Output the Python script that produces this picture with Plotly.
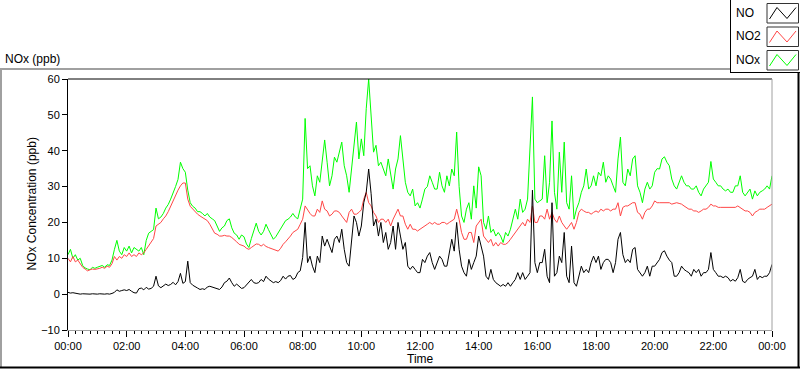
import plotly.graph_objects as go

# ---------------- data: 5-minute readings, 00:00 .. 24:00 (289 samples) ----------------
STEP_MIN = 5

no_ppb = [
    # 00:00 - 03:55
    0.5, 0.3, 0.4, 0.2, 0.1, 0.0, 0.1, 0.0, 0.1, 0.0, 0.1, 0.0,
    0.0, 0.1, 0.0, 0.0, 0.1, 0.0, 0.2, 0.5, 1.2, 0.8, 1.0, 1.2,
    1.0, 1.3, 0.8, 0.4, 0.3, 1.5, 1.7, 1.2, 1.9, 1.4, 1.6, 2.2,
    5.0, 2.3, 1.8, 2.2, 2.8, 2.4, 2.7, 3.3, 2.6, 3.5, 5.8, 3.0,
    # 04:00 - 07:55
    3.5, 9.2, 3.2, 2.5, 2.2, 1.7, 1.3, 1.5, 1.3, 2.0, 2.2, 2.0,
    1.8, 1.5, 1.3, 2.0, 3.2, 3.6, 4.5, 3.2, 2.2, 2.8, 2.2, 1.6,
    1.8, 2.5, 3.2, 4.1, 3.2, 3.0, 3.2, 4.1, 3.5, 5.0, 4.2, 3.6,
    3.2, 3.5, 3.2, 3.8, 5.0, 4.2, 5.0, 5.2, 4.1, 4.5, 6.0, 6.5,
    # 08:00 - 11:55
    10.2, 20.0, 8.8, 10.6, 7.8, 6.0, 10.6, 8.8, 16.2, 13.4, 15.3, 13.4,
    11.6, 15.3, 16.2, 14.4, 18.1, 12.5, 8.8, 7.8, 14.4, 21.8, 20.0, 16.2,
    19.0, 25.5, 28.4, 34.9, 28.0, 19.0, 20.9, 16.2, 20.0, 14.4, 17.2, 12.5,
    14.4, 19.0, 12.5, 20.0, 16.2, 12.5, 14.4, 7.8, 6.9, 7.8, 6.9, 6.0,
    # 12:00 - 15:55
    6.0, 9.7, 8.8, 10.6, 11.6, 8.8, 6.9, 8.8, 10.6, 9.7, 7.8, 7.8,
    11.6, 15.3, 12.0, 20.0, 12.5, 7.8, 6.0, 5.0, 9.7, 6.9, 8.8, 10.6,
    16.2, 13.4, 10.6, 5.0, 4.1, 6.9, 4.1, 3.2, 2.7, 2.2, 2.7, 2.2,
    3.2, 2.2, 3.2, 4.1, 6.0, 4.1, 6.0, 4.1, 5.0, 6.0, 29.0, 8.8,
    # 16:00 - 19:55
    6.0, 8.8, 8.8, 12.5, 5.0, 3.2, 25.5, 5.0, 6.0, 10.6, 8.8, 17.2,
    5.0, 3.2, 13.4, 3.2, 2.2, 5.0, 7.8, 6.0, 6.9, 6.0, 8.8, 10.6,
    8.8, 10.6, 6.9, 8.8, 9.7, 9.7, 8.8, 6.0, 8.8, 15.3, 17.2, 11.0,
    8.8, 9.7, 8.8, 12.5, 13.0, 6.9, 6.0, 5.0, 6.0, 7.8, 5.0, 7.8,
    # 20:00 - 24:00
    7.8, 8.8, 9.7, 11.6, 12.1, 10.6, 9.5, 8.8, 5.0, 5.0, 6.0, 7.8,
    6.9, 6.4, 6.0, 5.0, 6.9, 6.0, 6.9, 5.0, 6.0, 6.0, 6.9, 11.6,
    6.9, 6.0, 5.0, 5.0, 4.6, 5.0, 4.6, 3.6, 4.1, 3.6, 4.6, 6.9,
    3.6, 3.2, 4.1, 4.6, 5.0, 6.9, 4.1, 5.0, 4.6, 5.0, 5.0, 6.0, 8.3,
]

no2_ppb = [
    # 00:00 - 03:55
    10.0, 9.0, 10.5, 9.0, 9.5, 8.5, 7.5, 7.0, 6.5, 6.8, 7.0, 6.9,
    7.0, 7.2, 7.5, 7.2, 7.8, 7.5, 8.5, 10.5, 9.5, 10.5, 10.0, 11.0,
    10.5, 11.5, 10.5, 11.0, 10.5, 11.5, 11.0, 11.5, 12.5, 13.5, 14.5, 15.5,
    19.0, 19.5, 20.0, 21.0, 21.8, 23.0, 24.6, 26.0, 27.4, 29.0, 30.2, 31.0,
    # 04:00 - 07:55
    31.0, 26.5, 24.5, 23.7, 23.0, 22.3, 21.8, 21.3, 21.0, 20.5, 19.5, 18.0,
    17.0, 16.7, 16.2, 16.2, 16.4, 16.2, 16.2, 15.8, 15.3, 14.6, 13.9, 13.6,
    13.4, 12.8, 12.5, 13.0, 13.4, 14.0, 13.9, 13.4, 13.9, 13.3, 13.0, 12.8,
    12.5, 12.2, 12.0, 12.8, 13.9, 14.6, 15.3, 16.2, 17.2, 17.6, 18.1, 19.5,
    # 08:00 - 11:55
    20.9, 24.6, 23.5, 22.5, 21.8, 21.8, 23.7, 22.8, 26.0, 23.7, 23.2, 21.8,
    22.3, 23.2, 23.2, 22.8, 21.8, 20.9, 20.0, 22.8, 23.7, 22.3, 22.3, 22.8,
    23.5, 26.5, 28.4, 25.5, 24.6, 22.8, 21.8, 20.0, 20.9, 20.9, 20.0, 20.9,
    19.0, 20.9, 22.5, 23.7, 21.8, 21.8, 19.5, 18.1, 19.5, 18.1, 18.1, 17.6,
    # 12:00 - 15:55
    18.1, 18.5, 19.0, 19.5, 20.0, 19.5, 20.0, 19.5, 19.5, 20.0, 20.0, 19.5,
    20.0, 20.5, 20.9, 23.7, 20.9, 17.2, 15.3, 15.3, 17.2, 17.2, 14.4, 19.0,
    20.0, 20.9, 16.2, 15.3, 14.4, 15.3, 13.4, 14.4, 13.4, 14.4, 13.9, 13.9,
    14.4, 15.3, 16.2, 17.2, 18.1, 19.0, 20.0, 19.0, 20.9, 20.0, 24.6, 20.0,
    # 16:00 - 19:55
    20.0, 21.8, 21.8, 20.9, 23.7, 20.9, 22.8, 20.9, 20.0, 21.8, 20.0, 19.0,
    18.1, 19.0, 20.0, 18.1, 20.0, 22.8, 23.7, 23.2, 22.8, 22.8, 22.3, 22.8,
    23.2, 22.8, 23.7, 23.2, 23.7, 23.7, 23.2, 23.7, 23.7, 25.5, 21.8, 24.2,
    24.6, 24.6, 25.1, 25.5, 25.5, 22.8, 22.3, 20.9, 22.8, 23.7, 23.7, 24.6,
    # 20:00 - 24:00
    26.0, 25.5, 25.5, 25.5, 25.3, 25.5, 25.5, 25.1, 25.3, 25.5, 25.3, 25.1,
    24.6, 24.2, 23.7, 23.7, 23.2, 23.2, 22.8, 23.2, 23.7, 23.7, 24.2, 25.1,
    24.6, 24.6, 24.2, 24.2, 24.2, 24.2, 24.2, 24.2, 24.2, 24.2, 24.6, 24.2,
    23.7, 23.2, 23.2, 22.8, 21.8, 22.8, 23.2, 23.7, 23.7, 23.7, 24.2, 24.6, 25.1,
]

nox_ppb = [
    # 00:00 - 03:55
    11.0, 12.5, 10.0, 11.0, 9.5, 10.0, 8.0, 7.3, 7.0, 6.8, 7.5, 7.2,
    7.5, 7.8, 8.0, 7.5, 8.2, 8.0, 9.5, 12.5, 15.0, 12.0, 11.0, 13.0,
    12.0, 13.4, 11.5, 13.0, 12.5, 12.0, 13.0, 11.0, 15.0, 17.0, 17.5, 18.0,
    24.0, 21.0, 21.5, 22.5, 24.0, 25.0, 26.5, 28.0, 30.0, 32.0, 36.8, 35.0,
    # 04:00 - 07:55
    34.0, 29.0, 25.5, 24.5, 24.0, 23.0, 23.0, 22.5, 21.8, 22.5, 21.5, 21.0,
    20.5, 19.0, 17.5, 18.5, 19.0, 20.5, 21.0, 18.5, 17.0, 16.5, 15.3, 16.5,
    16.0, 14.0, 13.0, 15.5, 18.0, 19.8, 17.5, 16.5, 17.5, 19.5, 18.0, 16.5,
    15.3, 16.0, 17.2, 18.5, 19.5, 20.5, 20.9, 21.5, 22.5, 21.5, 21.0, 24.0,
    # 08:00 - 11:55
    26.5, 49.0, 35.0, 35.8, 30.2, 27.4, 33.0, 31.2, 36.8, 43.0, 36.8, 30.2,
    33.0, 38.2, 36.8, 39.6, 42.4, 35.8, 33.0, 28.4, 34.9, 43.3, 48.0, 37.7,
    43.3, 38.6, 51.7, 60.0, 50.8, 39.6, 41.5, 35.8, 36.8, 34.9, 33.0, 37.7,
    34.0, 29.3, 34.9, 37.7, 44.2, 37.7, 31.2, 28.4, 27.4, 29.3, 24.6, 25.5,
    # 12:00 - 15:55
    24.0, 26.5, 29.3, 30.0, 33.0, 31.2, 29.3, 29.3, 34.0, 30.2, 28.4, 33.0,
    30.2, 34.9, 33.0, 45.2, 30.0, 21.8, 20.0, 23.7, 25.5, 20.9, 30.2, 24.0,
    35.5, 33.0, 20.0, 18.1, 21.8, 17.2, 18.1, 16.2, 17.2, 16.2, 14.4, 17.2,
    16.2, 18.1, 20.9, 23.7, 20.9, 26.5, 22.8, 23.7, 26.5, 42.4, 55.0, 26.5,
    # 16:00 - 19:55
    25.5, 26.0, 26.5, 38.6, 25.5, 31.2, 48.3, 28.4, 23.7, 39.6, 28.4, 42.4,
    25.5, 23.7, 33.0, 20.9, 23.7, 25.5, 28.4, 30.2, 34.9, 29.3, 30.2, 33.0,
    30.2, 34.0, 33.0, 36.8, 31.2, 33.0, 32.1, 30.2, 28.4, 37.7, 43.8, 31.2,
    30.2, 34.9, 33.0, 37.7, 38.6, 30.2, 28.4, 25.5, 29.3, 31.2, 29.3, 30.2,
    # 20:00 - 24:00
    34.0, 35.0, 34.9, 37.7, 38.3, 36.8, 35.8, 32.1, 30.2, 29.3, 31.2, 33.0,
    31.2, 30.2, 30.2, 29.3, 29.3, 30.2, 28.4, 27.4, 29.3, 30.2, 31.2, 37.0,
    32.1, 31.2, 30.2, 30.2, 29.3, 28.8, 29.3, 28.4, 28.4, 30.2, 30.2, 33.0,
    28.4, 27.4, 28.4, 29.3, 26.5, 28.8, 27.4, 28.4, 28.8, 29.3, 30.2, 29.3, 33.0,
]

series_names = ["NO", "NO2", "NOx"]
series_colors = ["#000000", "#ff4646", "#00ff00"]

x_tick_hours = [0, 2, 4, 6, 8, 10, 12, 14, 16, 18, 20, 22, 24]
x_tick_labels = ["00:00", "02:00", "04:00", "06:00", "08:00", "10:00", "12:00",
                 "14:00", "16:00", "18:00", "20:00", "22:00", "00:00"]

hours = [i * STEP_MIN / 60.0 for i in range(len(no_ppb))]

# ---------------- layout geometry (pixels) ----------------
W, H = 800, 369
L, R, T, B = 68, 28, 79, 39
PW, PH = W - L - R, H - T - B


def fx(px):
    return (px - L) / PW


def fy(py):
    return (H - B - py) / PH


FONT = "Liberation Sans, Arial, sans-serif"

fig = go.Figure()
values = {"NO": no_ppb, "NO2": no2_ppb, "NOx": nox_ppb}
# draw NOx first (back), then NO2, then NO on top
for name, color in reversed(list(zip(series_names, series_colors))):
    fig.add_trace(go.Scatter(x=hours, y=values[name], mode="lines", name=name,
                             line=dict(color=color, width=1), showlegend=False,
                             hoverinfo="skip"))

shapes = []


def line(x0, y0, x1, y1, color, width=1):
    shapes.append(dict(type="line", xref="paper", yref="paper",
                       x0=fx(x0), y0=fy(y0), x1=fx(x1), y1=fy(y1),
                       line=dict(color=color, width=width)))


# plot frame: top black, right gray
shapes.append(dict(type="line", xref="paper", yref="paper", x0=0, x1=1, y0=1, y1=1,
                   line=dict(color="#000000", width=1)))
shapes.append(dict(type="line", xref="paper", yref="paper", x0=1, x1=1, y0=0, y1=1,
                   line=dict(color="#a0a0a0", width=1)))

# outer panel frame
line(0, 69, 730, 69, "#a0a0a0", 2)
line(1, 69, 1, 368, "#a0a0a0", 2)
line(0, 367.5, 800, 367.5, "#000000", 2)
line(798.5, 72, 798.5, 368, "#000000", 2)

# legend box
shapes.append(dict(type="rect", xref="paper", yref="paper",
                   x0=fx(730), x1=fx(800), y0=fy(72), y1=fy(-1),
                   fillcolor="white", line=dict(width=0)))
line(730.5, 0, 730.5, 72.5, "#000000", 1)
line(730, 72.5, 800, 72.5, "#000000", 1)

annotations = []
box_tops = [3.5, 27, 50.5]
for name, color, top in zip(series_names, series_colors, box_tops):
    bx0, bx1, by0, by1 = 767, 798.5, top, top + 19.5
    shapes.append(dict(type="rect", xref="paper", yref="paper",
                       x0=fx(bx0), x1=fx(bx1), y0=fy(by1), y1=fy(by0),
                       fillcolor="white", line=dict(color="#333333", width=1)))
    pts = [(bx0 + 2.5, by0 + 15.5), (bx0 + 10, by0 + 4), (bx0 + 20, by0 + 15),
           (bx0 + 29, by0 + 4)]
    path = "M " + " L ".join(f"{fx(px)},{fy(py)}" for px, py in pts)
    shapes.append(dict(type="path", xref="paper", yref="paper", path=path,
                       line=dict(color=color, width=1)))
    annotations.append(dict(text=name, xref="paper", yref="paper", x=fx(734), y=fy(top + 9.5),
                            xanchor="left", yanchor="middle", showarrow=False,
                            font=dict(family=FONT, size=12, color="#000000")))

annotations += [
    dict(text="NOx (ppb)", xref="paper", yref="paper", x=fx(3), y=fy(59),
         xanchor="left", yanchor="middle", showarrow=False,
         font=dict(family=FONT, size=12, color="#000000")),
    dict(text="NOx Concentration (ppb)", xref="paper", yref="paper", x=fx(31), y=fy(204.5),
         xanchor="center", yanchor="middle", textangle=-90, showarrow=False,
         font=dict(family=FONT, size=12, color="#000000")),
    dict(text="Time", xref="paper", yref="paper", x=fx(420), y=fy(359),
         xanchor="center", yanchor="middle", showarrow=False,
         font=dict(family=FONT, size=12, color="#000000")),
]

fig.update_layout(
    width=W, height=H,
    margin=dict(l=L, r=R, t=T, b=B, pad=0),
    paper_bgcolor="white", plot_bgcolor="white",
    font=dict(family=FONT, size=11, color="#000000"),
    showlegend=False,
    shapes=shapes, annotations=annotations,
    xaxis=dict(range=[0, 24], tickvals=x_tick_hours, ticktext=x_tick_labels,
               ticks="outside", ticklen=6, tickwidth=1, tickcolor="#000000",
               showgrid=False, zeroline=False, showline=True, linecolor="#a0a0a0",
               linewidth=1, tickfont=dict(family=FONT, size=11, color="#000000"),
               minor=dict(dtick=0.25, tick0=0, ticks="outside", ticklen=3,
                          tickcolor="#000000", tickwidth=1, showgrid=False)),
    yaxis=dict(range=[-10, 60], dtick=10, tick0=0, ticks="outside", ticklen=5,
               tickwidth=1, tickcolor="#000000", showgrid=False, zeroline=False,
               showline=True, linecolor="#000000", linewidth=1,
               tickfont=dict(family=FONT, size=11, color="#000000")),
)

fig.write_html("out.html",
               config={"displayModeBar": False, "staticPlot": True},
               post_script="document.body.style.margin='0';"
                           "document.body.style.overflow='hidden';")
